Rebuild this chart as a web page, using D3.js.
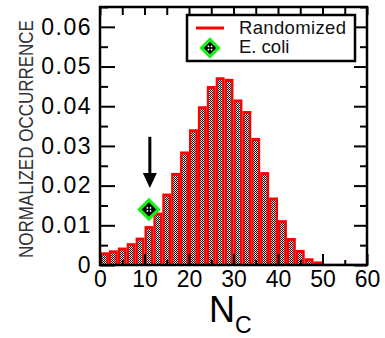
<!DOCTYPE html>
<html>
<head>
<meta charset="utf-8">
<script src="https://cdn.jsdelivr.net/npm/d3@7"></script>
<style>
  html, body { margin: 0; padding: 0; background: #fff; }
  svg { display: block; font-family: "Liberation Sans", Arial, Helvetica, sans-serif; }
</style>
</head>
<body>
<svg id="chart" width="385" height="338"></svg>
<script>
// Histogram of N_C for randomized networks (bin width 2), plus the E. coli value
const binStarts = [0, 2, 4, 6, 8, 10, 12, 14, 16, 18, 20, 22, 24, 26, 28,
                   30, 32, 34, 36, 38, 40, 42, 44, 46, 48, 50, 52, 54, 56, 58];
const randomized = [0.0032, 0.0037, 0.0044, 0.0055, 0.0069, 0.0098, 0.0132, 0.0180,
                    0.0232, 0.0286, 0.0342, 0.0400, 0.0451, 0.0473, 0.0469, 0.0417,
                    0.0388, 0.0320, 0.0234, 0.0170, 0.0113, 0.0068, 0.0038, 0.0017,
                    0.0009, 0.0003, 0.0003, 0.0003, 0.0003, 0.0003];
const binWidth = 2;
const ecoliNC = [11];
const ecoliValue = [0.014];
// arrow pointing at the E. coli value: [x, yStart, yEnd]
const arrowX = [11.2];
const arrowY = [0.0323, 0.0194];

const xTicks = [0, 10, 20, 30, 40, 50, 60];
const xMinorTicks = [5, 15, 25, 35, 45, 55];
const yTicks = [0, 0.01, 0.02, 0.03, 0.04, 0.05, 0.06];
const yMinorTicks = [0.005, 0.015, 0.025, 0.035, 0.045, 0.055, 0.065];
const yTickLabels = ["0", "0.01", "0.02", "0.03", "0.04", "0.05", "0.06"];
const legendLabels = ["Randomized", "E. coli"];

const svg = d3.select("#chart");
const plotLeft = 100, plotRight = 367, plotTop = 7, plotBottom = 265;
const x = d3.scaleLinear([0, 60], [plotLeft, plotRight]);
const y = d3.scaleLinear([0, 0.065], [plotBottom, plotTop]);

// stippled grey fill used inside each bar
const defs = svg.append("defs");
const pat = defs.append("pattern").attr("id", "stipple")
  .attr("width", 2).attr("height", 2).attr("patternUnits", "userSpaceOnUse");
pat.append("rect").attr("width", 2).attr("height", 2).attr("fill", "#111");
pat.append("rect").attr("x", 1).attr("y", 0).attr("width", 1).attr("height", 1).attr("fill", "#fff");
pat.append("rect").attr("x", 0).attr("y", 1).attr("width", 1).attr("height", 1).attr("fill", "#c8c8c8");

const bins = binStarts.map((s, i) => ({ x0: s, x1: s + binWidth, v: randomized[i] }));

// red bars
svg.append("g").selectAll("rect").data(bins).join("rect")
  .attr("x", d => x(d.x0))
  .attr("y", d => y(d.v))
  .attr("width", d => x(d.x1) - x(d.x0))
  .attr("height", d => y(0) - y(d.v))
  .attr("fill", "#ff0000");

// grey cores
svg.append("g").selectAll("rect").data(bins.filter(d => y(0) - y(d.v) > 4)).join("rect")
  .attr("x", d => x(d.x0) + 2.2)
  .attr("y", d => y(d.v) + 3)
  .attr("width", d => x(d.x1) - x(d.x0) - 4.6)
  .attr("height", d => y(0) - y(d.v) - 3)
  .attr("fill", "url(#stipple)");

// axes: ticks point inward on all four sides
function styleAxis(g) {
  g.select(".domain").remove();
  g.selectAll(".tick line").attr("stroke", "#000").attr("stroke-width", 2);
}
const fmtY = d => yTickLabels[yTicks.indexOf(d)];

const gl = svg.append("g").attr("transform", `translate(${plotLeft},0)`)
  .call(d3.axisLeft(y).tickValues(yTicks).tickSizeInner(-15).tickSizeOuter(0).tickPadding(8).tickFormat(fmtY));
styleAxis(gl);
gl.selectAll("text").attr("font-size", 23).attr("fill", "#000").attr("letter-spacing", 1.5)
  .attr("font-family", "Liberation Sans, Arial, sans-serif");
const glm = svg.append("g").attr("transform", `translate(${plotLeft},0)`)
  .call(d3.axisLeft(y).tickValues(yMinorTicks).tickSizeInner(-8).tickSizeOuter(0).tickFormat(""));
styleAxis(glm);

const gr = svg.append("g").attr("transform", `translate(${plotRight},0)`)
  .call(d3.axisRight(y).tickValues(yTicks).tickSizeInner(-13).tickSizeOuter(0).tickFormat(""));
styleAxis(gr);
const grm = svg.append("g").attr("transform", `translate(${plotRight},0)`)
  .call(d3.axisRight(y).tickValues(yMinorTicks).tickSizeInner(-7).tickSizeOuter(0).tickFormat(""));
styleAxis(grm);

const gb = svg.append("g").attr("transform", `translate(0,${plotBottom})`)
  .call(d3.axisBottom(x).tickValues(xTicks).tickSizeInner(-11).tickSizeOuter(0).tickPadding(6).tickFormat(d3.format("d")));
styleAxis(gb);
gb.selectAll("text").attr("font-size", 23).attr("fill", "#000")
  .attr("font-family", "Liberation Sans, Arial, sans-serif");
const gbm = svg.append("g").attr("transform", `translate(0,${plotBottom})`)
  .call(d3.axisBottom(x).tickValues(xMinorTicks).tickSizeInner(-5).tickSizeOuter(0).tickFormat(""));
styleAxis(gbm);

const gt = svg.append("g").attr("transform", `translate(0,${plotTop})`)
  .call(d3.axisTop(x).tickValues(xTicks.concat(xMinorTicks)).tickSizeInner(-8).tickSizeOuter(0).tickFormat(""));
styleAxis(gt);

// frame
svg.append("rect").attr("x", plotLeft).attr("y", plotTop)
  .attr("width", plotRight - plotLeft).attr("height", plotBottom - plotTop)
  .attr("fill", "none").attr("stroke", "#000").attr("stroke-width", 2.5);

// E. coli marker
function diamond(g, cx, cy, half) {
  const m = g.append("g").attr("transform", `translate(${cx},${cy}) rotate(45)`);
  const s = half * Math.SQRT2;
  m.append("rect").attr("x", -s / 2).attr("y", -s / 2).attr("width", s).attr("height", s)
    .attr("fill", "#000").attr("stroke", "#19f019").attr("stroke-width", 3.2);
  [[-2.2, 0], [2.2, 0], [0, -2.2], [0, 2.2]].forEach(([dx, dy]) => {
    m.append("rect").attr("x", dx - 0.8).attr("y", dy - 0.8).attr("width", 1.6).attr("height", 1.6)
      .attr("fill", "#fff");
  });
}
ecoliNC.forEach((n, i) => diamond(svg, x(n), y(ecoliValue[i]), 9.5));

// arrow
const ax = x(arrowX[0]);
svg.append("line").attr("x1", ax).attr("x2", ax)
  .attr("y1", y(arrowY[0])).attr("y2", y(arrowY[1]) - 12)
  .attr("stroke", "#000").attr("stroke-width", 3);
svg.append("path")
  .attr("d", `M${ax - 7},${y(arrowY[1]) - 15} L${ax + 7},${y(arrowY[1]) - 15} L${ax},${y(arrowY[1])} Z`)
  .attr("fill", "#000");

// legend
const lg = svg.append("g");
lg.append("rect").attr("x", 187).attr("y", 15).attr("width", 168).attr("height", 46)
  .attr("fill", "#fff").attr("stroke", "#000").attr("stroke-width", 2.5);
lg.append("line").attr("x1", 196).attr("x2", 224).attr("y1", 28).attr("y2", 28)
  .attr("stroke", "#ff0000").attr("stroke-width", 3);
diamond(lg, 210, 48, 8.5);
lg.selectAll("text").data(legendLabels).join("text")
  .attr("x", 239).attr("y", (d, i) => 34 + i * 19)
  .attr("font-size", 18.5).attr("fill", "#111")
  .attr("textLength", (d, i) => i === 0 ? 107 : null)
  .text(d => d);

// axis titles
const xt = svg.append("text").attr("x", 209).attr("y", 322).attr("fill", "#000");
xt.append("tspan").attr("font-size", 36).text("N");
xt.append("tspan").attr("font-size", 23).attr("dy", 11).text("C");

svg.append("text")
  .attr("transform", "translate(33,139) rotate(-90) scale(1,1.2)")
  .attr("text-anchor", "middle")
  .attr("font-size", 17).attr("fill", "#333")
  .text("NORMALIZED OCCURRENCE");
</script>
</body>
</html>
